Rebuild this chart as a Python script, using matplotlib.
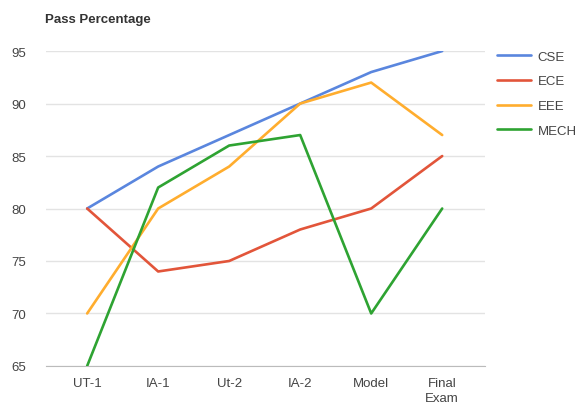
import matplotlib
matplotlib.use("Agg")
import matplotlib.pyplot as plt

plt.rcParams['font.family'] = ['Liberation Sans', 'DejaVu Sans']

exams = ['UT-1', 'IA-1', 'Ut-2', 'IA-2', 'Model', 'Final\nExam']
cse = [80, 84, 87, 90, 93, 95]
ece = [80, 74, 75, 78, 80, 85]
eee = [70, 80, 84, 90, 92, 87]
mech = [65, 82, 86, 87, 70, 80]

series = [('CSE', cse, '#5a86de'), ('ECE', ece, '#e2553a'),
          ('EEE', eee, '#ffad2e'), ('MECH', mech, '#2ea332')]

fig = plt.figure(figsize=(5.82, 4.10), dpi=100)
ax = fig.add_axes([0.079, 0.105, 0.754, 0.768])

x = list(range(len(exams)))
for name, vals, col in series:
    ax.plot(x, vals, color=col, lw=1.9, label=name, solid_capstyle='round')

ax.set_xlim(-0.58, 5.6)
ax.set_ylim(65, 95)
ax.set_yticks([65, 70, 75, 80, 85, 90, 95])
ax.set_xticks(x)
ax.set_xticklabels(exams)
ax.grid(axis='y', color='#e3e3e3', lw=1)
ax.set_axisbelow(True)
for s in ['top', 'right', 'left']:
    ax.spines[s].set_visible(False)
ax.spines['bottom'].set_color('#bbbbbb')
ax.spines['bottom'].set_zorder(0)
ax.tick_params(length=0, labelsize=9.5, colors='#444444', pad=8)
ax.tick_params(axis='y', pad=14)
for lab in ax.get_xticklabels():
    lab.set_linespacing(1.3)
    lab.set_verticalalignment('top')

fig.text(0.077, 0.945, 'Pass Percentage', fontsize=9.5, fontweight='bold', color='#333333')

leg = ax.legend(loc='upper left', bbox_to_anchor=(1.0, 1.04), frameon=False,
                fontsize=9.5, handlelength=2.6, labelspacing=0.95, handletextpad=0.5)
for t in leg.get_texts():
    t.set_color('#444444')

fig.savefig('out.png', dpi=100)
